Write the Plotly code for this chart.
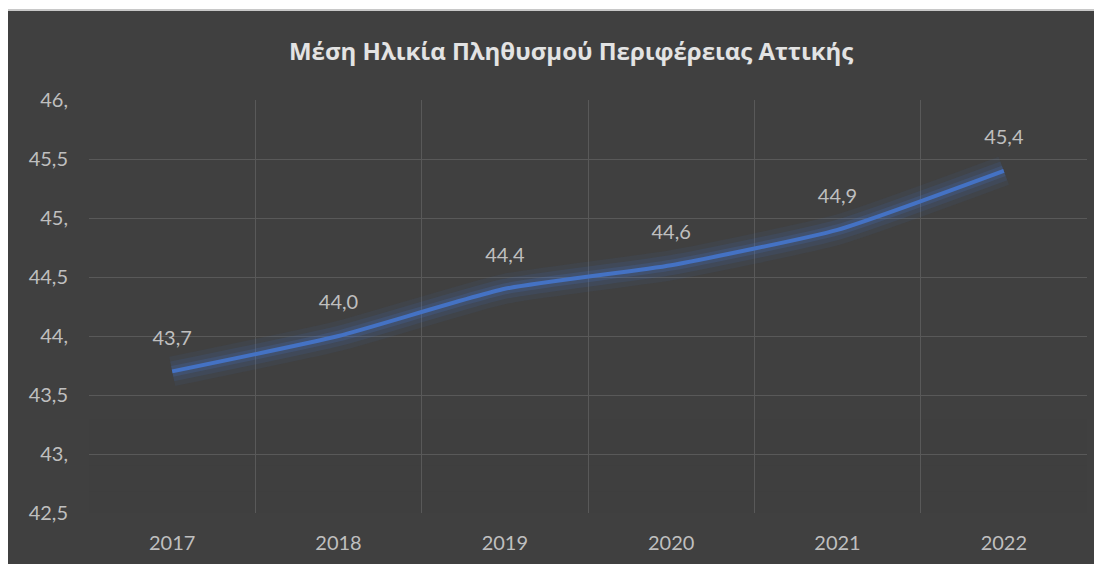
import plotly.graph_objects as go

years = ["2017", "2018", "2019", "2020", "2021", "2022"]
mean_age = [43.7, 44.0, 44.4, 44.6, 44.9, 45.4]
y_ticks = [42.5, 43.0, 43.5, 44.0, 44.5, 45.0, 45.5, 46.0]
y_tick_labels = ["42,5", "43,", "43,5", "44,", "44,5", "45,", "45,5", "46,"]

title = "Μέση Ηλικία Πληθυσμού Περιφέρειας Αττικής"
bg = "#404040"
grid = "#595959"
text_col = "#bfbfbf"
blue = "#4472C4"

labels = [f"{v:.1f}".replace(".", ",") for v in mean_age]

fig = go.Figure()

# soft glow under the line
for w, a in [(30, 0.08), (20, 0.12), (11, 0.2)]:
    fig.add_trace(go.Scatter(
        x=years, y=mean_age, mode="lines",
        line=dict(color=f"rgba(68,114,196,{a})", width=w, shape="spline", smoothing=0.5),
        hoverinfo="skip", showlegend=False,
    ))

fig.add_trace(go.Scatter(
    x=years, y=mean_age, mode="lines",
    line=dict(color=blue, width=4, shape="spline", smoothing=0.5),
    showlegend=False,
))

# data labels, pushed up by an invisible marker
fig.add_trace(go.Scatter(
    x=years, y=mean_age, mode="markers+text",
    marker=dict(size=33, opacity=0),
    text=labels, textposition="top center",
    textfont=dict(family="Lato", size=20, color=text_col),
    hoverinfo="skip", showlegend=False,
))

# fade grid toward the bottom like the original
fade = []
for top, a in [(43.7, 0.25), (43.3, 0.35), (42.9, 0.6), (42.68, 0.85)]:
    fade.append(dict(type="rect", xref="paper", yref="y", x0=0, x1=1,
                     y0=42.4, y1=top, layer="between", line_width=0,
                     fillcolor=f"rgba(64,64,64,{a})"))

# white page margin + thin border at top/left
frame = [
    dict(type="rect", xref="paper", yref="paper", x0=-0.2, x1=1.2, y0=1.2179, y1=1.3,
         fillcolor="white", line_width=0, layer="below"),
    dict(type="rect", xref="paper", yref="paper", x0=-0.2, x1=-0.0822, y0=-0.3, y1=1.3,
         fillcolor="white", line_width=0, layer="below"),
    dict(type="line", xref="paper", yref="paper", x0=-0.0822, x1=1.2, y0=1.2179, y1=1.2179,
         line=dict(color="#c8c8c8", width=2), layer="below"),
    dict(type="line", xref="paper", yref="paper", x0=-0.0822, x1=-0.0822, y0=-0.3, y1=1.2179,
         line=dict(color="#c8c8c8", width=2), layer="below"),
]

fig.update_layout(
    width=1102, height=564,
    margin=dict(l=81, r=23, t=92, b=59),
    paper_bgcolor=bg, plot_bgcolor=bg,
    title=dict(text=f"<b>{title}</b>", x=0.511, xanchor="center", y=0.922, yanchor="middle",
               font=dict(family="Open Sans", size=24, color="#e3e3e3")),
    shapes=fade + frame,
    xaxis=dict(type="category", range=[-0.5, 5.5], tickson="boundaries",
               showgrid=True, gridcolor=grid, gridwidth=1, zeroline=False,
               showline=False, ticks="", ticklabelstandoff=16,
               tickfont=dict(family="Lato", size=20, color=text_col)),
    yaxis=dict(range=[42.5, 46.0], tickvals=y_ticks, ticktext=y_tick_labels,
               showgrid=True, gridcolor=grid, gridwidth=1, zeroline=False,
               showline=False, ticks="", ticklabelstandoff=20,
               tickfont=dict(family="Lato", size=20, color=text_col)),
)

fig.write_html("out.html")
